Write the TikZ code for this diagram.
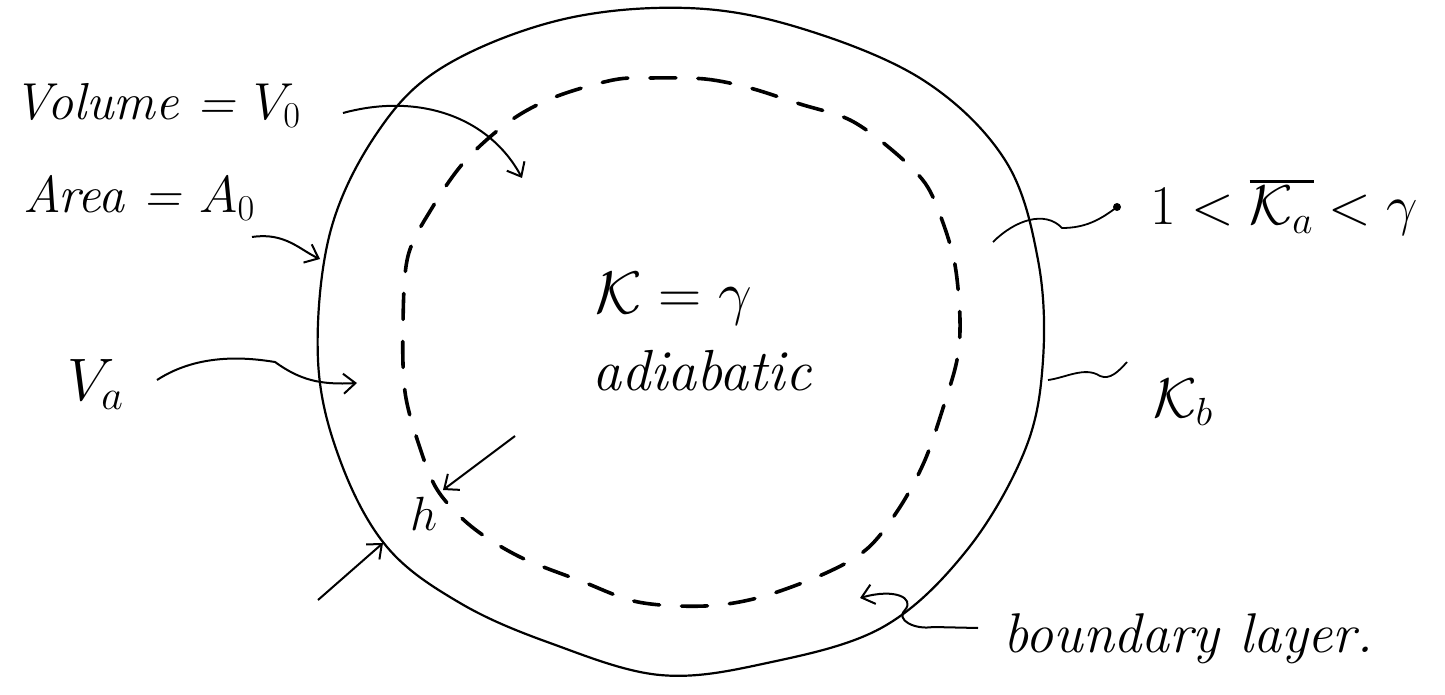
\RequirePackage{fix-cm}
\documentclass[tikz,border=0pt]{standalone}
\usepackage{fontspec}
\usetikzlibrary{arrows.meta}
\tikzset{
  lbl/.style={inner sep=0pt, anchor=base west, font=\fontsize{52}{60}\selectfont\itshape},
  arr/.style={line width=2pt, -{Straight Barb[length=12pt,width=20pt,line width=2pt]}},
  conn/.style={line width=1.8pt},
  outerc/.style={line width=2.2pt},
  dashc/.style={line width=3.6pt, line cap=round, dash pattern=on 26pt off 22pt},
}
\newcommand{\kbar}{\rlap{\rule[42pt]{64pt}{2.6pt}}}
\begin{document}
\begin{tikzpicture}[x=1pt,y=-1pt]
\useasboundingbox (0,0) rectangle (1445,695);
% outer circle
\draw[outerc] plot[smooth cycle, tension=0.6] coordinates {
 (687,8) (800,28) (923,80) (1005,160) (1038,260) (1043,360) (1025,450)
 (967,550) (883,627) (767,663) (660,675) (550,643) (460,603) (387,547)
 (340,460) (318,360) (330,233) (377,133) (443,67) (560,20)};
% dashed inner circle
\draw[dashc] plot[smooth cycle, tension=0.55] coordinates {
 (650,78) (705,79) (750,88) (800,104) (850,120) (892,150) (925,183) (942,220)
 (955,265) (960,320) (957,360) (944,405) (925,460) (900,507) (868,548)
 (826,573) (761,597) (705,606) (638,602) (581,581) (520,557) (472,527)
 (438,491) (420,448) (405,392) (403,323) (408,256) (432,208) (465,161)
 (510,121) (555,97) (613,80)};
% labels
\node[lbl] (vol) at (13,120) {Volume = $V_0$};
\node[lbl] (area) at (23,213) {Area = $A_0$};
\node[lbl, font=\fontsize{60}{70}\selectfont\itshape] (va) at (67,400) {$V_a$};
\node[lbl, font=\fontsize{60}{70}\selectfont\itshape] (kg) at (595,313) {$\mathcal{K} = \gamma$};
\node[lbl, font=\fontsize{58}{70}\selectfont\itshape] (adi) at (592,390) {adiabatic};
\node[lbl, font=\fontsize{56}{70}\selectfont\itshape] (ka) at (1150,225) {$1 < \kbar\mathcal{K}_a < \gamma$};
\node[lbl, font=\fontsize{56}{70}\selectfont\itshape] (kb) at (1153,417) {$\mathcal{K}_b$};
\node[lbl, font=\fontsize{56}{70}\selectfont\itshape] (bl) at (1003,652) {boundary layer.};
\node[lbl, font=\fontsize{48}{60}\selectfont\itshape] (h) at (410,530) {$h$};
% connector points
\coordinate (pVol) at (522,178);
\coordinate (pArea) at (320,259);
\coordinate (pVa) at (357,383);
\coordinate (kaS) at (993,242);
\coordinate (kaD) at (1117,207);
\coordinate (kbS) at (1048,380);
\coordinate (kbE) at (1127,362);
\coordinate (blS) at (978,628);
\coordinate (blT) at (860,598);
\coordinate (hIs) at (515,436);
\coordinate (hIt) at (443,490);
\coordinate (hOs) at (318,600);
\coordinate (hOt) at (383,543);
% arrows
\draw[arr] (343,113) .. controls (420,92) and (490,118) .. (pVol);
\draw[arr] (252,237) .. controls (285,232) and (300,250) .. (pArea);
\draw[arr] (157,380) .. controls (200,352) and (250,358) .. (275,362)
            .. controls (300,380) and (320,385) .. (pVa);
\draw[conn] (kaS) .. controls (1015,220) and (1045,210) .. (1062,228)
            .. controls (1085,228) and (1100,220) .. (kaD);
\fill (kaD) circle (4pt);
\draw[conn] (kbS) .. controls (1065,378) and (1085,366) .. (1100,376)
            .. controls (1110,380) and (1118,372) .. (kbE);
\draw[arr] (blS) -- (933,627) .. controls (915,630) and (895,620) .. (905,610)
            .. controls (915,598) and (895,588) .. (blT);
\draw[arr] (hIs) -- (hIt);
\draw[arr] (hOs) -- (hOt);
\end{tikzpicture}
\end{document}
